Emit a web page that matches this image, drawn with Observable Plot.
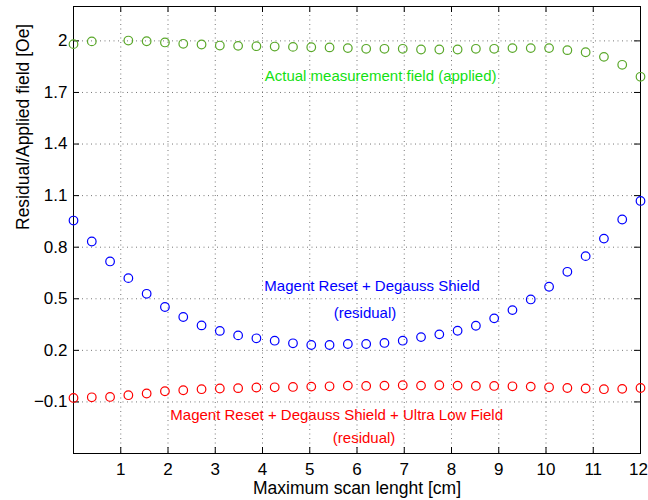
<!DOCTYPE html>
<html>
<head>
<meta charset="utf-8">
<script src="https://cdn.jsdelivr.net/npm/d3@7"></script>
<script src="https://cdn.jsdelivr.net/npm/@observablehq/plot@0.6"></script>
<style>
  html, body { margin: 0; padding: 0; background: #fff; }
</style>
</head>
<body>
<div id="chart"></div>
<script>
const xTicks = [1, 2, 3, 4, 5, 6, 7, 8, 9, 10, 11, 12];
const yTicks = [-0.1, 0.2, 0.5, 0.8, 1.1, 1.4, 1.7, 2];

const scanLength = [0, 0.387, 0.774, 1.161, 1.548, 1.935, 2.323, 2.71, 3.097, 3.484, 3.871, 4.258,
  4.645, 5.032, 5.419, 5.806, 6.194, 6.581, 6.968, 7.355, 7.742, 8.129, 8.516, 8.903,
  9.29, 9.677, 10.065, 10.452, 10.839, 11.226, 11.613, 12];

const appliedField = [1.981, 1.997, null, 2.002, 1.998, 1.991, 1.983, 1.979, 1.973, 1.971, 1.969, 1.967,
  1.965, 1.963, 1.962, 1.958, 1.954, 1.954, 1.954, 1.95, 1.95, 1.95, 1.954, 1.954,
  1.958, 1.958, 1.958, 1.946, 1.934, 1.907, 1.861, 1.791];

const resetDegauss = [0.955, 0.833, 0.717, 0.62, 0.529, 0.452, 0.394, 0.345, 0.313, 0.287, 0.27, 0.256,
  0.241, 0.231, 0.231, 0.237, 0.237, 0.243, 0.256, 0.277, 0.293, 0.314, 0.343, 0.386,
  0.434, 0.496, 0.57, 0.657, 0.748, 0.85, 0.961, 1.069];

const resetDegaussUlf = [-0.077, -0.073, -0.071, -0.061, -0.051, -0.038, -0.032, -0.026, -0.022, -0.02, -0.016, -0.015,
  -0.013, -0.011, -0.009, -0.005, -0.007, -0.005, -0.003, -0.005, -0.003, -0.005, -0.007, -0.007,
  -0.009, -0.011, -0.015, -0.019, -0.022, -0.026, -0.024, -0.019];

const seriesColors = ["#5aa82a", "#0000ff", "#ff0000"];

const annotationText = [
  "Actual measurement field (applied)",
  "Magent Reset + Degauss Shield",
  "(residual)",
  "Magent Reset + Degauss Shield + Ultra Low Field",
  "(residual)"
];
const annotationX = [6.5, 6.32, 6.17, 5.57, 6.15];
const annotationY = [1.795, 0.575, 0.418, -0.176, -0.309];
const annotationColors = ["#12e012", "#0000ff", "#0000ff", "#ff0000", "#ff0000"];

const xLabel = "Maximum scan lenght [cm]";
const yLabel = "Residual/Applied field [Oe]";

const W = 648, H = 500, mL = 73, mR = 8, mT = 6, mB = 47;
const innerW = W - mL - mR, innerH = H - mT - mB;
const tickLen = 6;

function seriesRows(values) {
  return scanLength.map((x, i) => ({x, y: values[i]})).filter(d => d.y != null);
}

const annotations = annotationText.map((t, i) => ({t, x: annotationX[i], y: annotationY[i], c: annotationColors[i]}));

const grid = {stroke: "#555", strokeOpacity: 0.8, strokeDasharray: "1,3.5", strokeWidth: 1};
const xTickLabelOpts = {tickSize: 0, tickPadding: 9, fontSize: 17, label: null, tickFormat: d => String(d)};

const chart = Plot.plot({
  width: W,
  height: H,
  marginLeft: mL,
  marginRight: mR,
  marginTop: mT,
  marginBottom: mB,
  style: {fontFamily: "'Liberation Sans', Arial, Helvetica, sans-serif", background: "#fff", color: "#000"},
  x: {domain: [0, 12], axis: null},
  y: {domain: [-0.4, 2.2], axis: null},
  marks: [
    Plot.ruleX(xTicks, {x: d => d, ...grid}),
    Plot.ruleY(yTicks, {y: d => d, ...grid}),
    // inward tick marks on all four sides
    Plot.ruleX(xTicks, {x: d => d, insetTop: innerH - tickLen, stroke: "#000"}),
    Plot.ruleX(xTicks, {x: d => d, insetBottom: innerH - tickLen, stroke: "#000"}),
    Plot.ruleY(yTicks, {y: d => d, insetRight: innerW - tickLen, stroke: "#000"}),
    Plot.ruleY(yTicks, {y: d => d, insetLeft: innerW - tickLen, stroke: "#000"}),
    Plot.axisX(xTicks.slice(0, -1), xTickLabelOpts),
    Plot.axisX(xTicks.slice(-1), {...xTickLabelOpts, dx: -2}),
    Plot.axisY(yTicks, {tickSize: 0, tickPadding: 6, fontSize: 17, label: null,
      tickFormat: d => d < 0 ? "\u2212" + String(Math.abs(d)) : String(d)}),
    Plot.frame({stroke: "#000", strokeWidth: 1}),
    Plot.dot(seriesRows(appliedField), {x: "x", y: "y", r: 4.3, stroke: seriesColors[0], strokeWidth: 1.2, fill: "none"}),
    Plot.dot(seriesRows(resetDegauss), {x: "x", y: "y", r: 4.3, stroke: seriesColors[1], strokeWidth: 1.2, fill: "none"}),
    Plot.dot(seriesRows(resetDegaussUlf), {x: "x", y: "y", r: 4.3, stroke: seriesColors[2], strokeWidth: 1.2, fill: "none"}),
    Plot.text(annotations, {x: "x", y: "y", text: "t", fill: "c", fontSize: 15, textAnchor: "middle", lineAnchor: "middle"}),
    Plot.text([xLabel], {text: d => d, frameAnchor: "bottom", dy: 35, fontSize: 17.5, lineAnchor: "middle", fill: "#000"}),
    Plot.text([yLabel], {text: d => d, frameAnchor: "left", dx: -50, rotate: -90, fontSize: 17.5, lineAnchor: "middle", fill: "#000"})
  ],
  color: {type: "identity"}
});

document.getElementById("chart").appendChild(chart);
</script>
</body>
</html>
